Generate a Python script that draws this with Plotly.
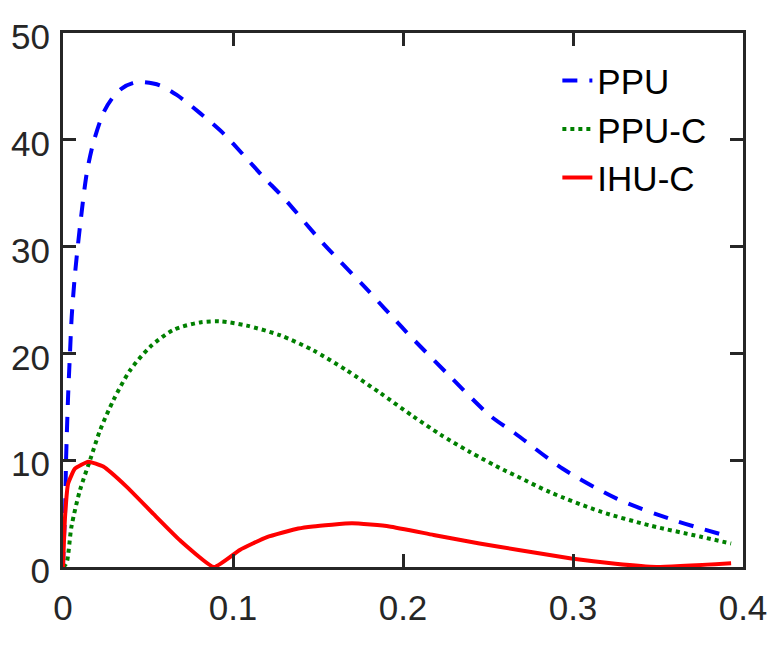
import plotly.graph_objects as go

# ---- data ----
ppu_x = [0, 0.0005, 0.0012, 0.0018, 0.003, 0.0041, 0.0051, 0.0071, 0.010, 0.014, 0.0178,
         0.0237, 0.029, 0.0345, 0.041, 0.047, 0.057, 0.0669, 0.0806, 0.0943, 0.106, 0.118,
         0.1296, 0.153, 0.1776, 0.202, 0.2267, 0.251, 0.266, 0.294, 0.3257, 0.359, 0.393]
ppu_y = [0, 2.5, 5, 10, 16, 20, 23.4, 27.5, 31.9, 36.9, 39.7,
         42.5, 43.9, 44.8, 45.3, 45.4, 45.1, 44.2, 42.5, 40.6, 38.6, 36.5,
         34.6, 30.3, 26.2, 22.0, 18.0, 14.2, 12.5, 9.2, 6.4, 4.4, 2.8]

ppuc_x = [0, 0.002, 0.005, 0.010, 0.0159, 0.0218, 0.0296, 0.0394, 0.0512, 0.0649, 0.0806,
          0.0924, 0.108, 0.1276, 0.147, 0.167, 0.1865, 0.206, 0.222, 0.239, 0.259, 0.267,
          0.2865, 0.316, 0.345, 0.3747, 0.393]
ppuc_y = [0, 0.35, 3.8, 7.2, 10.0, 12.8, 15.6, 18.4, 20.6, 22.2, 22.9,
          23.0, 22.6, 21.7, 20.3, 18.4, 16.3, 14.1, 12.4, 10.8, 9.1, 8.5,
          7.0, 5.2, 3.9, 2.85, 2.2]

ihuc_x = [0, 0.0012, 0.003, 0.007, 0.0149, 0.0237, 0.0375, 0.053, 0.0688, 0.0888, 0.104,
          0.12, 0.1384, 0.147, 0.17, 0.192, 0.218, 0.245, 0.268, 0.299, 0.325, 0.349, 0.393]
ihuc_y = [0, 4.7, 7.8, 9.2, 9.86, 9.4, 7.5, 5.0, 2.5, 0, 1.6,
          2.8, 3.6, 3.8, 4.1, 3.8, 3.0, 2.2, 1.6, 0.8, 0.3, 0.0, 0.35]

series_names = ["PPU", "PPU-C", "IHU-C"]
x_ticks = [0, 0.1, 0.2, 0.3, 0.4]
x_tick_text = ["0", "0.1", "0.2", "0.3", "0.4"]
y_ticks = [0, 10, 20, 30, 40, 50]
y_tick_text = ["0", "10", "20", "30", "40", "50"]

fig = go.Figure()
fig.add_trace(go.Scatter(x=ppu_x, y=ppu_y, mode="lines", name=series_names[0],
                         line=dict(color="#0000FF", width=4, dash="15px,12px",
                                   shape="spline", smoothing=0.8)))
fig.add_trace(go.Scatter(x=ppuc_x, y=ppuc_y, mode="lines", name=series_names[1],
                         line=dict(color="#008000", width=4, dash="4px,4px",
                                   shape="spline", smoothing=0.8)))
fig.add_trace(go.Scatter(x=ihuc_x, y=ihuc_y, mode="lines", name=series_names[2],
                         line=dict(color="#FF0000", width=4, shape="spline", smoothing=0.4)))

axis_common = dict(showline=True, linecolor="#262626", linewidth=3, mirror="ticks",
                   ticks="inside", ticklen=13, tickwidth=3, tickcolor="#262626",
                   showgrid=False, zeroline=False, automargin=False,
                   tickfont=dict(family="Liberation Sans, Arial, sans-serif", size=35, color="#262626"))

fig.update_xaxes(range=[0, 0.4], tickvals=x_ticks, ticktext=x_tick_text,
                 ticklabelstandoff=8, **axis_common)
fig.update_yaxes(range=[0, 50], tickvals=y_ticks, ticktext=y_tick_text,
                 ticklabelstandoff=3, ticklabelshift=4, **axis_common)

fig.update_layout(
    width=780, height=663,
    margin=dict(l=63, r=37, t=33, b=96),
    paper_bgcolor="white", plot_bgcolor="white",
    showlegend=True,
    legend=dict(x=0.727, y=0.966, xanchor="left", yanchor="top",
                bgcolor="rgba(0,0,0,0)",
                font=dict(family="Liberation Sans, Arial, sans-serif", size=35, color="black"),
                tracegroupgap=0),
)

fig.write_html("out.html")
